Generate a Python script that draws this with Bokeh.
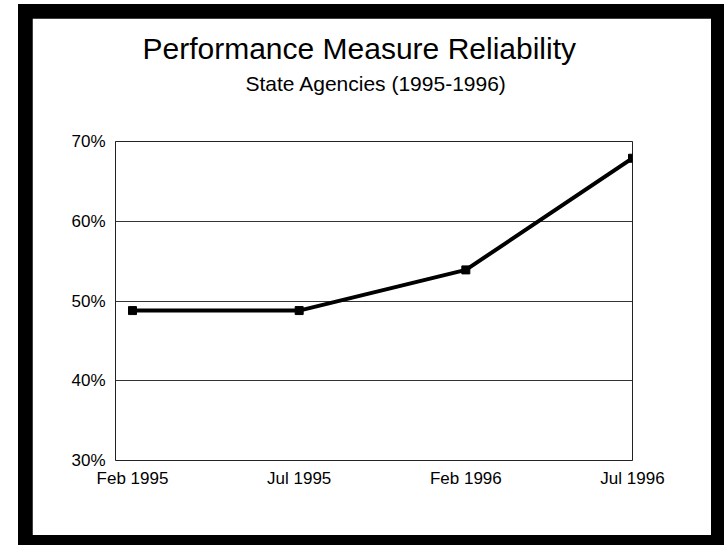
from bokeh.plotting import figure
from bokeh.models import Range1d, FixedTicker, PrintfTickFormatter, Title
from bokeh.layouts import column
from bokeh.embed import file_html
from bokeh.resources import INLINE

# ---- data ----
categories = ["Feb 1995", "Jul 1995", "Feb 1996", "Jul 1996"]
reliability = [48.8, 48.8, 53.9, 67.9]
y_ticks = [30, 40, 50, 60, 70]
title_text = "Performance Measure Reliability"
subtitle_text = "State Agencies (1995-1996)"

FONT = "Liberation Sans"
x_idx = list(range(len(categories)))

p = figure(width=679, height=517, output_backend="svg", toolbar_location=None,
           x_range=Range1d(-0.102, len(categories) - 1),
           y_range=Range1d(y_ticks[0], y_ticks[-1]),
           min_border_left=83, min_border_right=79,
           min_border_top=123, min_border_bottom=75,
           title=title_text)

# main title (outermost)
p.title.text_font = FONT
p.title.text_font_size = "30px"
p.title.text_font_style = "normal"
p.title.text_color = "black"
p.title.align = "left"
p.title.offset = 27
p.title.standoff = 5
# empty spacer between subtitle and plot area (innermost)
p.add_layout(Title(text=" ", text_font=FONT, text_font_size="1px", standoff=42), "above")
# subtitle
p.add_layout(Title(text=subtitle_text, text_font=FONT, text_font_size="21px",
                   text_font_style="normal", text_color="black", align="left",
                   offset=130, standoff=4), "above")

p.background_fill_color = "white"
p.border_fill_color = "white"
p.outline_line_color = "#222222"
p.outline_line_width = 1

# lines + markers
p.line(x_idx, reliability, line_color="black", line_width=4)
p.scatter(x_idx, reliability, marker="square", size=8, color="black")

# axes
p.xaxis.ticker = FixedTicker(ticks=x_idx)
p.xaxis.major_label_overrides = {i: c for i, c in zip(x_idx, categories)}
p.yaxis.ticker = FixedTicker(ticks=y_ticks)
p.yaxis.formatter = PrintfTickFormatter(format="%d%%")
for ax in (p.xaxis[0], p.yaxis[0]):
    ax.axis_line_color = None
    ax.major_tick_line_color = None
    ax.minor_tick_line_color = None
    ax.major_tick_out = 0
    ax.major_tick_in = 0
    ax.major_label_text_font = FONT
    ax.major_label_text_font_size = "17px"
    ax.major_label_text_color = "black"
p.xaxis.major_label_standoff = 8
p.yaxis.major_label_standoff = 10

p.xgrid.grid_line_color = None
p.ygrid.ticker = FixedTicker(ticks=y_ticks)
p.ygrid.grid_line_color = "#333333"
p.ygrid.grid_line_width = 1

layout = column(p, styles={"background-color": "black",
                           "padding": "14px 13px 10px 14px",
                           "margin-left": "18px", "margin-top": "4px"})

open("out.html", "w").write(file_html(layout, INLINE))
